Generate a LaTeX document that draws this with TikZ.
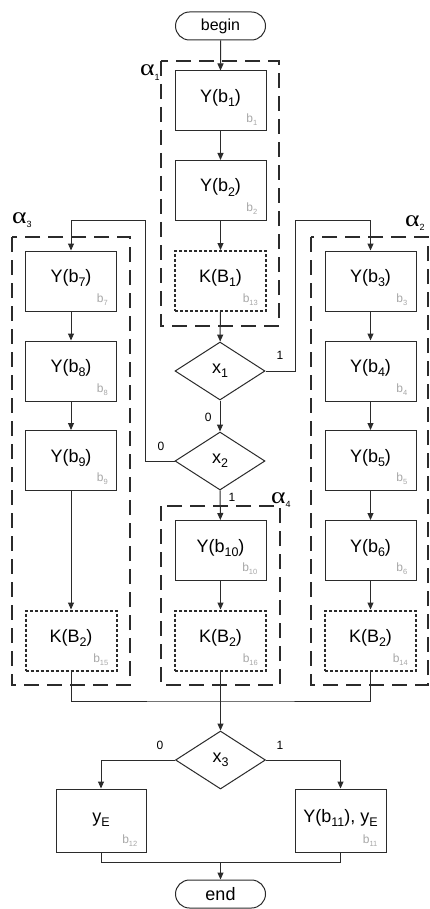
\documentclass[tikz,border=0pt]{standalone}
\usepackage{fontspec}
\setmainfont{Liberation Sans}
\newfontfamily\alfont{Liberation Serif}
\usetikzlibrary{arrows.meta,shapes.geometric,shapes.misc}
\definecolor{lc}{HTML}{2B2B2B}
\definecolor{gl}{HTML}{A8A8A8}
\newcommand\sbs[1]{\raisebox{-0.45ex}{\fontsize{12.5}{12.5}\selectfont #1}}
\newcommand\gsb[1]{\raisebox{-0.45ex}{\fontsize{7.5}{7.5}\selectfont #1}}
\newcommand\asb[1]{\raisebox{-0.4ex}{\fontsize{9}{9}\selectfont #1}}
\newcommand\alf{\scalebox{1.2}[1]{\alfont α}}
\begin{document}
\begin{tikzpicture}[x=1pt,y=-1pt,
  line/.style={draw=lc, line width=1pt},
  arr/.style={line, -{Triangle[length=7pt,width=6pt]}},
  box/.style={draw=lc, line width=1pt, minimum width=91pt, minimum height=60pt, inner sep=0pt,
    text height=13pt, text depth=10pt, font=\fontsize{18}{18}\selectfont},
  kbox/.style={box, line width=2pt, dash pattern=on 3pt off 2pt},
  dec/.style={diamond, draw=lc, line width=1pt, minimum width=90pt, minimum height=58pt, inner sep=0pt,
    font=\fontsize{18}{18}\selectfont},
  term/.style={rounded rectangle, draw=lc, line width=1pt, minimum width=90pt, minimum height=28pt, inner sep=0pt},
  glbl/.style={text=gl, inner sep=0pt, anchor=south east, font=\fontsize{12}{12}\selectfont},
  grp/.style={draw=lc, line width=1.2pt, dash pattern=on 15pt off 8pt},
  alab/.style={inner sep=0pt, anchor=base west, font=\fontsize{23}{23}\selectfont},
  elab/.style={inner sep=0pt, font=\fontsize{12}{12}\selectfont}]
\useasboundingbox (0,0) rectangle (430,909);
\fill[white] (0,0) rectangle (430,909);

% groups
\draw[grp] (161,61) rectangle (279,326);
\draw[grp] (12,237) rectangle (130,685);
\draw[grp] (311,237) rectangle (428,685);
\draw[grp] (161,506) rectangle (280,685);
\node[alab] (al1) at (140,76) {\alf\asb{1}};
\node[alab] (al3) at (12,223) {\alf\asb{3}};
\node[alab] (al2) at (405,226) {\alf\asb{2}};
\node[alab] (al4) at (271,503) {\alf\asb{4}};

% terminals
\node[term, font=\fontsize{16}{16}\selectfont] (begin) at (220.5,26) {begin};
\node[term, font=\fontsize{18}{18}\selectfont] (end) at (220.5,894) {end};

% center column
\node[box] (Y1) at (220.5,101) {Y(b\sbs{1})};
\node[box] (Y2) at (220.5,190.5) {Y(b\sbs{2})};
\node[kbox] (K13) at (220.5,281) {K(B\sbs{1})};
\node[dec] (x1) at (220,371) {x\sbs{1}};
\node[dec] (x2) at (220,461) {x\sbs{2}};
\node[box] (Y10) at (220.5,550.5) {Y(b\sbs{10})};
\node[kbox] (K16) at (220.5,640.5) {K(B\sbs{2})};

% left column
\node[box] (Y7) at (71,281) {Y(b\sbs{7})};
\node[box] (Y8) at (71,371) {Y(b\sbs{8})};
\node[box] (Y9) at (71,460.5) {Y(b\sbs{9})};
\node[kbox] (K15) at (71,640.5) {K(B\sbs{2})};

% right column
\node[box] (Y3) at (370.5,281) {Y(b\sbs{3})};
\node[box] (Y4) at (370.5,371) {Y(b\sbs{4})};
\node[box] (Y5) at (370.5,460.5) {Y(b\sbs{5})};
\node[box] (Y6) at (370.5,550.5) {Y(b\sbs{6})};
\node[kbox] (K14) at (370.5,640.5) {K(B\sbs{2})};

% bottom
\node[dec] (x3) at (220.5,760) {x\sbs{3}};
\node[box, minimum width=90pt, minimum height=63pt] (yE) at (101,820.5) {y\sbs{E}};
\node[box, minimum height=63pt] (Y11) at (340.5,820.5) {Y(b\sbs{11}), y\sbs{E}};

% gray labels
\foreach \n/\t in {Y1/1,Y2/2,Y3/3,Y4/4,Y5/5,Y6/6,Y7/7,Y8/8,Y9/9,Y10/10,K13/13,K14/14,K15/15,K16/16,yE/12,Y11/11}{
  \node[glbl] (g\n) at ([xshift=-9pt,yshift=6pt]\n.south east) {b\gsb{\t}};
}

% connectors
\draw[arr] (begin) -- (Y1);
\draw[arr] (Y1) -- (Y2);
\draw[arr] (Y2) -- (K13);
\draw[arr] (K13) -- (x1);
\draw[arr] (x1) -- (x2) node[elab, pos=0.55, left=8pt] (l0a) {0};
\draw[arr] (x2) -- (Y10) node[elab, pos=0.22, right=8pt] (l1b) {1};
\draw[arr] (Y10) -- (K16);
\draw[arr] (Y7) -- (Y8);
\draw[arr] (Y8) -- (Y9);
\draw[arr] (Y9) -- (K15);
\draw[arr] (Y3) -- (Y4);
\draw[arr] (Y4) -- (Y5);
\draw[arr] (Y5) -- (Y6);
\draw[arr] (Y6) -- (K14);

\coordinate (r1) at (295,221);
\coordinate (l1) at (145,221);
\draw[arr] (x1.east) -| (r1) -| (Y3.north);
\draw[arr] (x2.west) -| (l1) -| (Y7.north);
\node[elab] (l1a) at (280,355) {1};
\node[elab] (l0b) at (161,446) {0};

\coordinate (mj) at (220.5,701);
\draw[line] (K15.south) |- (mj) -| (K14.south);
\draw[arr] (K16.south) -- (x3.north);

\draw[arr] (x3.west) -| (yE.north);
\draw[arr] (x3.east) -| (Y11.north);
\node[elab] (l0c) at (160,745) {0};
\node[elab] (l1c) at (280,745) {1};

\coordinate (ej) at (220.5,862);
\draw[line] (yE.south) |- (ej) -| (Y11.south);
\draw[arr] (ej) -- (end.north);
\end{tikzpicture}
\end{document}
